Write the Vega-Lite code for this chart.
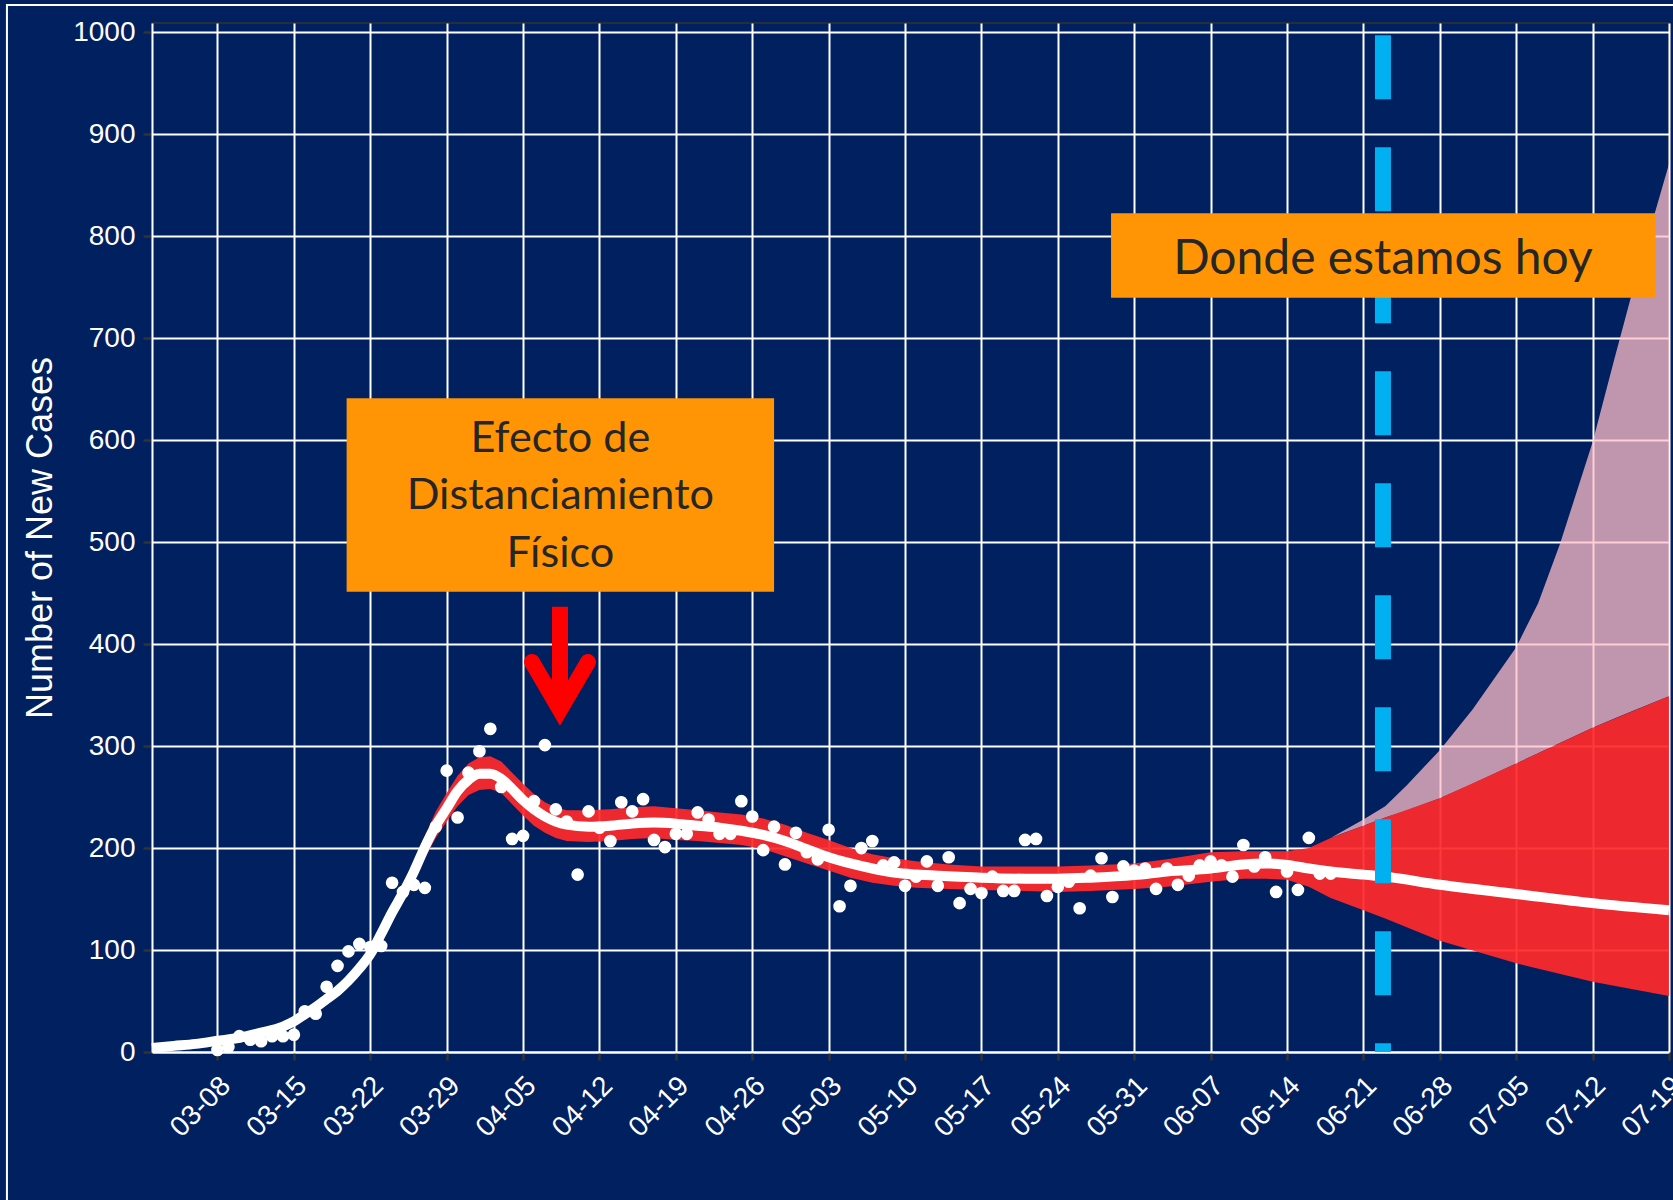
{
  "$schema": "https://vega.github.io/schema/vega-lite/v6.json",
  "width": 1517,
  "height": 1029,
  "autosize": {"type": "none"},
  "padding": {"left": 152, "top": 23, "right": 4, "bottom": 148},
  "background": "#002060",
  "config": {
    "view": {"stroke": "#333333", "strokeWidth": 1.5},
    "axis": {
      "grid": true, "gridColor": "#FFFFFF", "gridWidth": 2, "gridOpacity": 1,
      "domainColor": "#FFFFFF", "domainWidth": 2,
      "tickColor": "#333333", "tickWidth": 2.5, "tickSize": 9,
      "labelColor": "#FFFFFF", "labelFont": "Liberation Sans", "labelFontSize": 28,
      "titleColor": "#FFFFFF", "titleFont": "Liberation Sans", "titleFontSize": 36, "titleFontWeight": "normal"
    },
    "axisX": {"labelAngle": -45, "labelAlign": "right", "labelBaseline": "alphabetic", "labelPadding": 27, "labelOffset": 14, "tickSize": 8, "labelOverlap": false, "labelFlush": false, "labelBound": false},
    "axisY": {"labelPadding": 8, "titlePadding": 13}
  },
  "datasets": {
    "pts": [
      {"t": "2020-03-08", "v": 2}, {"t": "2020-03-09", "v": 5},
      {"t": "2020-03-10", "v": 15.5}, {"t": "2020-03-11", "v": 12}, {"t": "2020-03-12", "v": 10.5}, {"t": "2020-03-13", "v": 15.5},
      {"t": "2020-03-14", "v": 15.5}, {"t": "2020-03-15", "v": 17}, {"t": "2020-03-16", "v": 40}, {"t": "2020-03-17", "v": 37.5},
      {"t": "2020-03-18", "v": 64}, {"t": "2020-03-19", "v": 84.5}, {"t": "2020-03-20", "v": 98.7}, {"t": "2020-03-21", "v": 106},
      {"t": "2020-03-22", "v": 103}, {"t": "2020-03-23", "v": 104}, {"t": "2020-03-24", "v": 166}, {"t": "2020-03-25", "v": 157},
      {"t": "2020-03-26", "v": 164}, {"t": "2020-03-27", "v": 161}, {"t": "2020-03-28", "v": 221}, {"t": "2020-03-29", "v": 276},
      {"t": "2020-03-30", "v": 230}, {"t": "2020-03-31", "v": 274}, {"t": "2020-04-01", "v": 295}, {"t": "2020-04-02", "v": 317},
      {"t": "2020-04-03", "v": 260}, {"t": "2020-04-04", "v": 209}, {"t": "2020-04-05", "v": 212}, {"t": "2020-04-06", "v": 246},
      {"t": "2020-04-07", "v": 301}, {"t": "2020-04-08", "v": 238}, {"t": "2020-04-09", "v": 226}, {"t": "2020-04-10", "v": 174},
      {"t": "2020-04-11", "v": 236}, {"t": "2020-04-12", "v": 220}, {"t": "2020-04-13", "v": 207}, {"t": "2020-04-14", "v": 245},
      {"t": "2020-04-15", "v": 236}, {"t": "2020-04-16", "v": 248}, {"t": "2020-04-17", "v": 208}, {"t": "2020-04-18", "v": 201},
      {"t": "2020-04-19", "v": 214}, {"t": "2020-04-20", "v": 214}, {"t": "2020-04-21", "v": 235}, {"t": "2020-04-22", "v": 228},
      {"t": "2020-04-23", "v": 214}, {"t": "2020-04-24", "v": 214}, {"t": "2020-04-25", "v": 246}, {"t": "2020-04-26", "v": 231},
      {"t": "2020-04-27", "v": 198}, {"t": "2020-04-28", "v": 221}, {"t": "2020-04-29", "v": 184}, {"t": "2020-04-30", "v": 215},
      {"t": "2020-05-01", "v": 196}, {"t": "2020-05-02", "v": 189}, {"t": "2020-05-03", "v": 218}, {"t": "2020-05-04", "v": 143},
      {"t": "2020-05-05", "v": 163}, {"t": "2020-05-06", "v": 200}, {"t": "2020-05-07", "v": 207}, {"t": "2020-05-08", "v": 183},
      {"t": "2020-05-09", "v": 186}, {"t": "2020-05-10", "v": 163}, {"t": "2020-05-11", "v": 172}, {"t": "2020-05-12", "v": 187},
      {"t": "2020-05-13", "v": 163}, {"t": "2020-05-14", "v": 191}, {"t": "2020-05-15", "v": 146}, {"t": "2020-05-16", "v": 160},
      {"t": "2020-05-17", "v": 156}, {"t": "2020-05-18", "v": 172}, {"t": "2020-05-19", "v": 158}, {"t": "2020-05-20", "v": 158},
      {"t": "2020-05-21", "v": 208}, {"t": "2020-05-22", "v": 209}, {"t": "2020-05-23", "v": 153}, {"t": "2020-05-24", "v": 162},
      {"t": "2020-05-25", "v": 167}, {"t": "2020-05-26", "v": 141}, {"t": "2020-05-27", "v": 173}, {"t": "2020-05-28", "v": 190},
      {"t": "2020-05-29", "v": 152}, {"t": "2020-05-30", "v": 182}, {"t": "2020-05-31", "v": 178}, {"t": "2020-06-01", "v": 180},
      {"t": "2020-06-02", "v": 160}, {"t": "2020-06-03", "v": 180}, {"t": "2020-06-04", "v": 164}, {"t": "2020-06-05", "v": 173},
      {"t": "2020-06-06", "v": 183}, {"t": "2020-06-07", "v": 187}, {"t": "2020-06-08", "v": 183}, {"t": "2020-06-09", "v": 172},
      {"t": "2020-06-10", "v": 203}, {"t": "2020-06-11", "v": 182}, {"t": "2020-06-12", "v": 191}, {"t": "2020-06-13", "v": 157},
      {"t": "2020-06-14", "v": 177}, {"t": "2020-06-15", "v": 159}, {"t": "2020-06-16", "v": 210}, {"t": "2020-06-17", "v": 175},
      {"t": "2020-06-18", "v": 175}
    ],
    "fit": [
      {"t": "2020-03-02", "fit": 4, "lo": 3, "hi": 5},
      {"t": "2020-03-04", "fit": 6, "lo": 5, "hi": 7},
      {"t": "2020-03-06", "fit": 8, "lo": 7, "hi": 9},
      {"t": "2020-03-08", "fit": 11, "lo": 10, "hi": 12},
      {"t": "2020-03-10", "fit": 14, "lo": 13, "hi": 15},
      {"t": "2020-03-12", "fit": 19, "lo": 18, "hi": 20},
      {"t": "2020-03-14", "fit": 25, "lo": 23, "hi": 27},
      {"t": "2020-03-15", "fit": 30, "lo": 28, "hi": 32},
      {"t": "2020-03-16", "fit": 37, "lo": 35, "hi": 39},
      {"t": "2020-03-17", "fit": 44, "lo": 41, "hi": 47},
      {"t": "2020-03-18", "fit": 52, "lo": 49, "hi": 55},
      {"t": "2020-03-19", "fit": 60, "lo": 57, "hi": 64},
      {"t": "2020-03-20", "fit": 70, "lo": 66, "hi": 74},
      {"t": "2020-03-21", "fit": 82, "lo": 78, "hi": 87},
      {"t": "2020-03-22", "fit": 96, "lo": 91, "hi": 101},
      {"t": "2020-03-23", "fit": 116, "lo": 110, "hi": 122},
      {"t": "2020-03-24", "fit": 137, "lo": 130, "hi": 144},
      {"t": "2020-03-25", "fit": 156, "lo": 148, "hi": 165},
      {"t": "2020-03-26", "fit": 177, "lo": 168, "hi": 187},
      {"t": "2020-03-27", "fit": 201, "lo": 190, "hi": 212},
      {"t": "2020-03-28", "fit": 222, "lo": 210, "hi": 236},
      {"t": "2020-03-29", "fit": 239, "lo": 226, "hi": 254},
      {"t": "2020-03-30", "fit": 256, "lo": 241, "hi": 271},
      {"t": "2020-03-31", "fit": 267, "lo": 252, "hi": 283},
      {"t": "2020-04-01", "fit": 273, "lo": 257, "hi": 289},
      {"t": "2020-04-02", "fit": 273, "lo": 258, "hi": 290},
      {"t": "2020-04-03", "fit": 268, "lo": 254, "hi": 285},
      {"t": "2020-04-04", "fit": 258, "lo": 243, "hi": 274},
      {"t": "2020-04-05", "fit": 247, "lo": 232, "hi": 263},
      {"t": "2020-04-06", "fit": 238, "lo": 222, "hi": 253},
      {"t": "2020-04-07", "fit": 231, "lo": 215, "hi": 245},
      {"t": "2020-04-08", "fit": 226, "lo": 210, "hi": 240},
      {"t": "2020-04-09", "fit": 223, "lo": 207, "hi": 237},
      {"t": "2020-04-11", "fit": 221, "lo": 206, "hi": 237},
      {"t": "2020-04-13", "fit": 222, "lo": 207, "hi": 238},
      {"t": "2020-04-15", "fit": 224, "lo": 209, "hi": 240},
      {"t": "2020-04-17", "fit": 225, "lo": 210, "hi": 241},
      {"t": "2020-04-19", "fit": 224, "lo": 208, "hi": 239},
      {"t": "2020-04-21", "fit": 222, "lo": 207, "hi": 237},
      {"t": "2020-04-23", "fit": 220, "lo": 205, "hi": 235},
      {"t": "2020-04-25", "fit": 217, "lo": 203, "hi": 233},
      {"t": "2020-04-27", "fit": 213, "lo": 199, "hi": 229},
      {"t": "2020-04-29", "fit": 207, "lo": 192, "hi": 223},
      {"t": "2020-05-01", "fit": 199, "lo": 185, "hi": 215},
      {"t": "2020-05-03", "fit": 191, "lo": 178, "hi": 208},
      {"t": "2020-05-05", "fit": 185, "lo": 171, "hi": 200},
      {"t": "2020-05-07", "fit": 180, "lo": 166, "hi": 194},
      {"t": "2020-05-09", "fit": 176, "lo": 163, "hi": 190},
      {"t": "2020-05-11", "fit": 174, "lo": 161, "hi": 187},
      {"t": "2020-05-14", "fit": 172.5, "lo": 160, "hi": 184},
      {"t": "2020-05-17", "fit": 171, "lo": 159, "hi": 182},
      {"t": "2020-05-21", "fit": 170, "lo": 158, "hi": 182},
      {"t": "2020-05-24", "fit": 170, "lo": 157, "hi": 182},
      {"t": "2020-05-27", "fit": 171, "lo": 158, "hi": 183},
      {"t": "2020-05-31", "fit": 173.5, "lo": 160, "hi": 185},
      {"t": "2020-06-03", "fit": 177, "lo": 162, "hi": 189},
      {"t": "2020-06-07", "fit": 180, "lo": 167, "hi": 196},
      {"t": "2020-06-10", "fit": 184, "lo": 170, "hi": 197},
      {"t": "2020-06-12", "fit": 185, "lo": 170, "hi": 197},
      {"t": "2020-06-14", "fit": 183.5, "lo": 169, "hi": 197},
      {"t": "2020-06-16", "fit": 180, "lo": 162, "hi": 200},
      {"t": "2020-06-18", "fit": 177, "lo": 151, "hi": 210},
      {"t": "2020-06-21", "fit": 174, "lo": 139, "hi": 222},
      {"t": "2020-06-23", "fit": 172, "lo": 131, "hi": 230},
      {"t": "2020-06-28", "fit": 164, "lo": 109, "hi": 249},
      {"t": "2020-07-05", "fit": 155, "lo": 87, "hi": 283},
      {"t": "2020-07-12", "fit": 146, "lo": 69, "hi": 318},
      {"t": "2020-07-19", "fit": 139, "lo": 55, "hi": 349}
    ],
    "pink": [
      {"t": "2020-06-16", "lo": 200, "hi": 200},
      {"t": "2020-06-18", "lo": 210, "hi": 210},
      {"t": "2020-06-19", "lo": 214, "hi": 216},
      {"t": "2020-06-21", "lo": 222, "hi": 228},
      {"t": "2020-06-23", "lo": 230, "hi": 241},
      {"t": "2020-06-25", "lo": 237, "hi": 262},
      {"t": "2020-06-28", "lo": 249, "hi": 296},
      {"t": "2020-07-01", "lo": 263, "hi": 336},
      {"t": "2020-07-05", "lo": 283, "hi": 397},
      {"t": "2020-07-07", "lo": 293, "hi": 440},
      {"t": "2020-07-09", "lo": 303, "hi": 498},
      {"t": "2020-07-12", "lo": 318, "hi": 598},
      {"t": "2020-07-14", "lo": 327, "hi": 680},
      {"t": "2020-07-16", "lo": 336, "hi": 760},
      {"t": "2020-07-19", "lo": 349, "hi": 871}
    ]
  },
  "layer": [
    {
      "data": {"values": [{"t1": "2020-02-17T17:00:00Z", "t2": "2020-08-20T00:00:00Z", "v1": -300, "v2": 1027}]},
      "mark": {"type": "rect", "fillOpacity": 0, "stroke": "#FFFFFF", "strokeWidth": 2},
      "encoding": {
        "x": {"field": "t1", "type": "temporal", "scale": {"type": "utc", "domain": [{"year": 2020, "month": 3, "date": 2, "utc": true}, {"year": 2020, "month": 7, "date": 19, "utc": true}]}, "title": null,
          "axis": {"values": [
            {"year": 2020, "month": 3, "date": 8, "utc": true}, {"year": 2020, "month": 3, "date": 15, "utc": true},
            {"year": 2020, "month": 3, "date": 22, "utc": true}, {"year": 2020, "month": 3, "date": 29, "utc": true},
            {"year": 2020, "month": 4, "date": 5, "utc": true}, {"year": 2020, "month": 4, "date": 12, "utc": true},
            {"year": 2020, "month": 4, "date": 19, "utc": true}, {"year": 2020, "month": 4, "date": 26, "utc": true},
            {"year": 2020, "month": 5, "date": 3, "utc": true}, {"year": 2020, "month": 5, "date": 10, "utc": true},
            {"year": 2020, "month": 5, "date": 17, "utc": true}, {"year": 2020, "month": 5, "date": 24, "utc": true},
            {"year": 2020, "month": 5, "date": 31, "utc": true}, {"year": 2020, "month": 6, "date": 7, "utc": true},
            {"year": 2020, "month": 6, "date": 14, "utc": true}, {"year": 2020, "month": 6, "date": 21, "utc": true},
            {"year": 2020, "month": 6, "date": 28, "utc": true}, {"year": 2020, "month": 7, "date": 5, "utc": true},
            {"year": 2020, "month": 7, "date": 12, "utc": true}, {"year": 2020, "month": 7, "date": 19, "utc": true}
          ], "format": "%m-%d"}},
        "x2": {"field": "t2"},
        "y": {"field": "v1", "type": "quantitative", "scale": {"domain": [0, 1009.3], "nice": false, "zero": false}, "title": "Number of New Cases",
          "axis": {"values": [0, 100, 200, 300, 400, 500, 600, 700, 800, 900, 1000], "format": "d"}},
        "y2": {"field": "v2"}
      }
    },
    {
      "data": {"name": "pink"},
      "mark": {"type": "area", "color": "#FFBDC8", "opacity": 0.75},
      "encoding": {
        "x": {"field": "t", "type": "temporal", "title": null},
        "y": {"field": "lo", "type": "quantitative", "title": "Number of New Cases"},
        "y2": {"field": "hi"}
      }
    },
    {
      "data": {"name": "fit"},
      "mark": {"type": "area", "color": "#FF292A", "opacity": 0.93},
      "encoding": {
        "x": {"field": "t", "type": "temporal", "title": null},
        "y": {"field": "lo", "type": "quantitative", "title": "Number of New Cases"},
        "y2": {"field": "hi"}
      }
    },
    {
      "data": {"name": "fit"},
      "mark": {"type": "line", "color": "#FFFFFF", "strokeWidth": 10, "interpolate": "monotone"},
      "encoding": {
        "x": {"field": "t", "type": "temporal", "title": null},
        "y": {"field": "fit", "type": "quantitative", "title": "Number of New Cases"}
      }
    },
    {
      "data": {"name": "pts"},
      "mark": {"type": "circle", "color": "#FFFFFF", "size": 160, "opacity": 1},
      "encoding": {
        "x": {"field": "t", "type": "temporal", "title": null},
        "y": {"field": "v", "type": "quantitative", "title": "Number of New Cases"}
      }
    },
    {
      "data": {"values": [{"t": "2020-06-22T19:00:00Z", "top": 997.4, "bot": 0}]},
      "mark": {"type": "rule", "color": "#00B0F0", "strokeWidth": 16, "strokeDash": [64, 48], "strokeCap": "butt"},
      "encoding": {
        "x": {"field": "t", "type": "temporal", "title": null},
        "y": {"field": "top", "type": "quantitative", "title": "Number of New Cases"},
        "y2": {"field": "bot"}
      }
    },
    {
      "data": {"values": [
        {"t1": "2020-03-19T20:00:00Z", "t2": "2020-04-28T00:00:00Z", "v1": 451.5, "v2": 641.2},
        {"t1": "2020-05-28T21:00:00Z", "t2": "2020-07-17T18:30:00Z", "v1": 739.9, "v2": 822.7}
      ]},
      "mark": {"type": "rect", "color": "#FF9505"},
      "encoding": {
        "x": {"field": "t1", "type": "temporal", "title": null},
        "x2": {"field": "t2"},
        "y": {"field": "v1", "type": "quantitative", "title": "Number of New Cases"},
        "y2": {"field": "v2"}
      }
    },
    {
      "data": {"values": [{"t": "2020-04-08T10:00:00Z", "v": 588.8, "label": "Efecto de\nDistanciamiento\nFísico"}]},
      "mark": {"type": "text", "font": "Lato", "fontSize": 43.2, "color": "#262626", "align": "center", "baseline": "alphabetic", "lineBreak": "\n", "lineHeight": 57.7},
      "encoding": {
        "x": {"field": "t", "type": "temporal", "title": null},
        "y": {"field": "v", "type": "quantitative", "title": "Number of New Cases"},
        "text": {"field": "label"}
      }
    },
    {
      "data": {"values": [{"t": "2020-06-22T19:00:00Z", "v": 763.1, "label": "Donde estamos hoy"}]},
      "mark": {"type": "text", "font": "Lato", "fontSize": 48, "color": "#262626", "align": "center", "baseline": "alphabetic"},
      "encoding": {
        "x": {"field": "t", "type": "temporal", "title": null},
        "y": {"field": "v", "type": "quantitative", "title": "Number of New Cases"},
        "text": {"field": "label"}
      }
    },
    {
      "data": {"values": [{"t": "2020-04-08T09:10:00Z", "top": 436.8, "bot": 345.3}]},
      "mark": {"type": "rule", "color": "#FF0000", "strokeWidth": 16, "strokeCap": "butt"},
      "encoding": {
        "x": {"field": "t", "type": "temporal", "title": null},
        "y": {"field": "top", "type": "quantitative", "title": "Number of New Cases"},
        "y2": {"field": "bot"}
      }
    },
    {
      "data": {"values": [
        {"t": "2020-04-05T19:40:00Z", "v": 382.5},
        {"t": "2020-04-08T09:10:00Z", "v": 335.5},
        {"t": "2020-04-10T22:50:00Z", "v": 382.5}
      ]},
      "mark": {"type": "line", "color": "#FF0000", "strokeWidth": 16, "strokeCap": "round", "strokeJoin": "miter"},
      "encoding": {
        "x": {"field": "t", "type": "temporal", "title": null},
        "y": {"field": "v", "type": "quantitative", "title": "Number of New Cases"}
      }
    }
  ]
}
